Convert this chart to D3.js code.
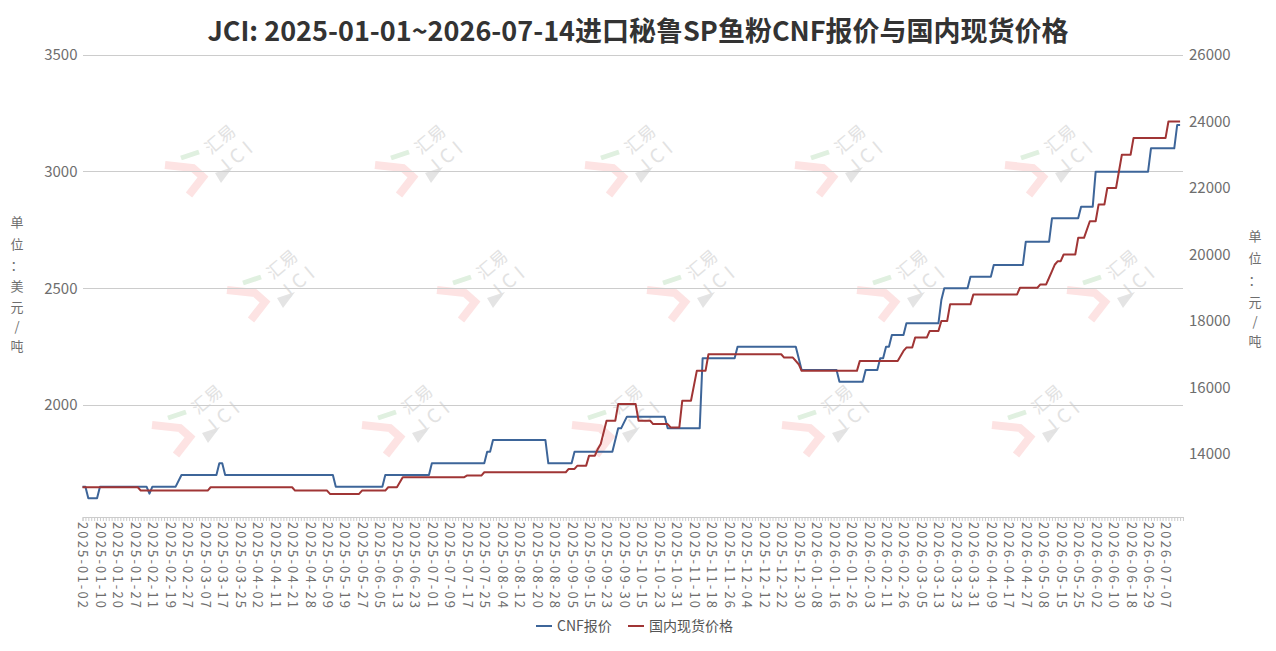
<!DOCTYPE html>
<html>
<head>
<meta charset="utf-8">
<script src="https://cdn.jsdelivr.net/npm/d3@7"></script>
<style>
  body { margin: 0; background: #fff; }
  svg { display: block; }
  text { font-family: "Noto Sans CJK SC", "Noto Sans", sans-serif; }
</style>
</head>
<body>
<div id="chart"></div>
<script>
// Chart data
const title = 'JCI: 2025-01-01~2026-07-14进口秘鲁SP鱼粉CNF报价与国内现货价格';
const seriesNames = ['CNF报价', '国内现货价格'];
const categoryCount = 379;
const labelEvery = 6;
const tickLabels = [
  '2025-01-02', '2025-01-10', '2025-01-20', '2025-01-27', '2025-02-11', '2025-02-19',
  '2025-02-27', '2025-03-07', '2025-03-17', '2025-03-25', '2025-04-02', '2025-04-11',
  '2025-04-21', '2025-04-28', '2025-05-09', '2025-05-19', '2025-05-27', '2025-06-05',
  '2025-06-13', '2025-06-23', '2025-07-01', '2025-07-09', '2025-07-17', '2025-07-25',
  '2025-08-04', '2025-08-12', '2025-08-20', '2025-08-28', '2025-09-05', '2025-09-15',
  '2025-09-23', '2025-09-30', '2025-10-15', '2025-10-23', '2025-10-31', '2025-11-10',
  '2025-11-18', '2025-11-26', '2025-12-04', '2025-12-12', '2025-12-22', '2025-12-30',
  '2026-01-08', '2026-01-16', '2026-01-26', '2026-02-03', '2026-02-11', '2026-02-26',
  '2026-03-05', '2026-03-13', '2026-03-23', '2026-03-31', '2026-04-09', '2026-04-17',
  '2026-04-27', '2026-05-08', '2026-05-15', '2026-05-25', '2026-06-02', '2026-06-10',
  '2026-06-18', '2026-06-29', '2026-07-07',
];

// [category index, value] where the price changes
const cnfPoints = [
  [0, 1650], [1, 1650], [2, 1600], [5, 1600], [6, 1650], [22, 1650], [23, 1620], [24, 1650],
  [32, 1650], [34, 1700], [46, 1700], [47, 1750], [48, 1750], [49, 1700], [86, 1700], [87, 1650],
  [103, 1650], [104, 1700], [119, 1700], [120, 1750], [138, 1750], [139, 1800], [140, 1800],
  [141, 1850], [159, 1850], [160, 1750], [168, 1750], [169, 1800], [182, 1800], [184, 1900],
  [185, 1900], [187, 1950], [200, 1950], [201, 1900], [212, 1900], [213, 2200], [224, 2200],
  [225, 2250], [245, 2250], [246, 2200], [247, 2150], [259, 2150], [260, 2100], [268, 2100],
  [269, 2150], [273, 2150], [274, 2200], [275, 2200], [276, 2250], [277, 2250], [278, 2300],
  [282, 2300], [283, 2350], [294, 2350], [295, 2450], [296, 2500], [304, 2500], [305, 2550],
  [312, 2550], [313, 2600], [323, 2600], [324, 2700], [332, 2700], [333, 2800], [342, 2800],
  [343, 2850], [347, 2850], [348, 3000], [366, 3000], [367, 3100], [375, 3100], [376, 3200],
  [377, 3200],
];
const spotPoints = [
  [0, 13000], [19, 13000], [20, 12900], [43, 12900], [44, 13000], [72, 13000], [73, 12900],
  [84, 12900], [85, 12800], [95, 12800], [96, 12900], [104, 12900], [105, 13000], [108, 13000],
  [110, 13300], [131, 13300], [132, 13350], [137, 13350], [138, 13450], [166, 13450],
  [167, 13550], [169, 13550], [170, 13650], [173, 13650], [174, 13950], [176, 13950],
  [177, 14150], [178, 14300], [180, 15000], [183, 15000], [184, 15500], [190, 15500],
  [191, 15000], [195, 15000], [196, 14900], [201, 14900], [202, 14800], [205, 14800],
  [206, 15600], [209, 15600], [211, 16500], [214, 16500], [215, 17000], [240, 17000],
  [241, 16900], [244, 16900], [246, 16700], [247, 16500], [266, 16500], [267, 16800],
  [280, 16800], [282, 17100], [283, 17200], [285, 17200], [286, 17500], [290, 17500],
  [291, 17700], [294, 17700], [295, 18000], [297, 18000], [298, 18500], [305, 18500],
  [306, 18800], [321, 18800], [322, 19000], [328, 19000], [329, 19100], [331, 19100],
  [332, 19300], [333, 19500], [334, 19700], [335, 19800], [336, 19800], [337, 20000],
  [341, 20000], [342, 20500], [344, 20500], [346, 21000], [348, 21000], [349, 21500],
  [351, 21500], [352, 22000], [355, 22000], [357, 23000], [360, 23000], [361, 23500],
  [372, 23500], [373, 24000], [377, 24000],
];
const leftTicks = [2000, 2500, 3000, 3500];
const rightTicks = [14000, 16000, 18000, 20000, 22000, 24000, 26000];

// Layout
const width = 1276;
const height = 651;
const plot = { left: 82.5, right: 1183, top: 55, bottom: 517 };
const colours = { cnf: '#3d6599', spot: '#a03535', grid: '#cccccc', label: '#6e6e6e' };

const svg = d3.select('#chart')
  .append('svg')
  .attr('width', width)
  .attr('height', height);

// Scales
const categories = d3.range(categoryCount);
const x = d3.scalePoint().domain(categories).range([plot.left, plot.right]);
const yLeft = d3.scaleLinear().domain([1520, 3500]).range([plot.bottom, plot.top]);
const yRight = d3.scaleLinear().domain([12105, 26000]).range([plot.bottom, plot.top]);

// Watermarks
const markRows = [
  { y: 125, x0: 163 },
  { y: 250, x0: 225 },
  { y: 385, x0: 150 },
];
const markStep = 210;
const marks = svg.append('g').attr('class', 'watermarks');
markRows.forEach(row => {
  d3.range(5).forEach(k => {
    const g = marks.append('g')
      .attr('transform', `translate(${row.x0 + k * markStep},${row.y})`);
    g.append('path')
      .attr('d', 'M2,40 L30,43 L40,52 L26,70')
      .attr('fill', 'none')
      .attr('stroke', '#fde3e3')
      .attr('stroke-width', 8);
    g.append('path')
      .attr('d', 'M18,33 L36,27')
      .attr('stroke', '#e0f0e0')
      .attr('stroke-width', 5);
    g.append('path')
      .attr('d', 'M52,48 L70,42 L58,58 Z')
      .attr('fill', '#e4e4e4');
    g.append('text')
      .attr('transform', 'translate(48,30) rotate(-40)')
      .attr('font-size', 17)
      .attr('fill', '#e2e2e2')
      .text('汇易');
    g.append('text')
      .attr('transform', 'translate(62,50) rotate(-40)')
      .attr('font-size', 19)
      .attr('letter-spacing', 5)
      .attr('fill', '#e2e2e2')
      .text('JCI');
  });
});

// Grid lines
svg.append('g')
  .selectAll('line')
  .data(leftTicks)
  .enter().append('line')
  .attr('x1', plot.left)
  .attr('x2', plot.right)
  .attr('y1', d => yLeft(d))
  .attr('y2', d => yLeft(d))
  .attr('stroke', colours.grid)
  .attr('stroke-width', 1)
  .attr('shape-rendering', 'crispEdges');

// Left axis
const leftAxis = svg.append('g')
  .attr('transform', `translate(${plot.left},0)`)
  .call(d3.axisLeft(yLeft).tickValues(leftTicks).tickFormat(d3.format('d')).tickSize(0).tickPadding(5));
leftAxis.select('.domain').remove();
leftAxis.selectAll('text')
  .attr('font-size', 15)
  .attr('fill', colours.label)
  .style('font-family', '"Noto Sans CJK SC", sans-serif');

// Right axis
const rightAxis = svg.append('g')
  .attr('transform', `translate(${plot.right},0)`)
  .call(d3.axisRight(yRight).tickValues(rightTicks).tickFormat(d3.format('d')).tickSize(0).tickPadding(6));
rightAxis.select('.domain').remove();
rightAxis.selectAll('text')
  .attr('font-size', 15)
  .attr('fill', colours.label)
  .style('font-family', '"Noto Sans CJK SC", sans-serif');

// Bottom axis: a tick per category, a label every sixth one
const bottomAxis = svg.append('g')
  .attr('transform', `translate(0,${plot.bottom})`)
  .call(d3.axisBottom(x)
    .tickValues(categories)
    .tickSize(4)
    .tickFormat(i => (i % labelEvery === 0 && tickLabels[i / labelEvery]) || ''));
bottomAxis.select('.domain')
  .attr('stroke', colours.grid);
bottomAxis.selectAll('.tick line')
  .attr('stroke', colours.grid);
bottomAxis.selectAll('.tick text')
  .filter(function () { return this.textContent === ''; })
  .remove();
bottomAxis.selectAll('.tick text')
  .attr('transform', 'rotate(90)')
  .attr('text-anchor', 'start')
  .attr('x', 5)
  .attr('y', 0)
  .attr('dy', '0.35em')
  .attr('font-size', 13)
  .attr('fill', colours.label)
  .attr('textLength', 86)
  .attr('lengthAdjust', 'spacing')
  .style('font-family', '"Noto Sans CJK SC", sans-serif');

// Lines
const lineLeft = d3.line().x(d => x(d[0])).y(d => yLeft(d[1]));
const lineRight = d3.line().x(d => x(d[0])).y(d => yRight(d[1]));

svg.append('path')
  .datum(cnfPoints)
  .attr('d', lineLeft)
  .attr('fill', 'none')
  .attr('stroke', colours.cnf)
  .attr('stroke-width', 2)
  .attr('stroke-linejoin', 'round');

svg.append('path')
  .datum(spotPoints)
  .attr('d', lineRight)
  .attr('fill', 'none')
  .attr('stroke', colours.spot)
  .attr('stroke-width', 2)
  .attr('stroke-linejoin', 'round');

// Title
svg.append('text')
  .attr('x', 638)
  .attr('y', 41)
  .attr('text-anchor', 'middle')
  .attr('font-size', 27)
  .attr('font-weight', 'bold')
  .attr('fill', '#333')
  .text(title);

// Axis names, one character per row
function verticalName(chars, cx, ys) {
  svg.append('g')
    .selectAll('text')
    .data(chars)
    .enter().append('text')
    .attr('x', cx)
    .attr('y', (d, i) => ys[i])
    .attr('text-anchor', 'middle')
    .attr('dy', '0.35em')
    .attr('font-size', 13)
    .attr('fill', colours.label)
    .text(d => d);
}
verticalName(['单', '位', '：', '美', '元', '/', '吨'], 17, [222, 244, 265, 286, 307, 326, 346]);
verticalName(['单', '位', '：', '元', '/', '吨'], 1255, [236, 258, 280, 302, 321, 341]);

// Legend
const legendItems = [
  { name: seriesNames[0], colour: colours.cnf, x: 536 },
  { name: seriesNames[1], colour: colours.spot, x: 628 },
];
const legend = svg.append('g').selectAll('g')
  .data(legendItems)
  .enter().append('g')
  .attr('transform', d => `translate(${d.x},626)`);
legend.append('line')
  .attr('x1', 0)
  .attr('x2', 16)
  .attr('stroke', d => d.colour)
  .attr('stroke-width', 2);
legend.append('text')
  .attr('x', 21)
  .attr('dy', '0.35em')
  .attr('font-size', 14)
  .attr('fill', '#555')
  .text(d => d.name);
</script>
</body>
</html>
